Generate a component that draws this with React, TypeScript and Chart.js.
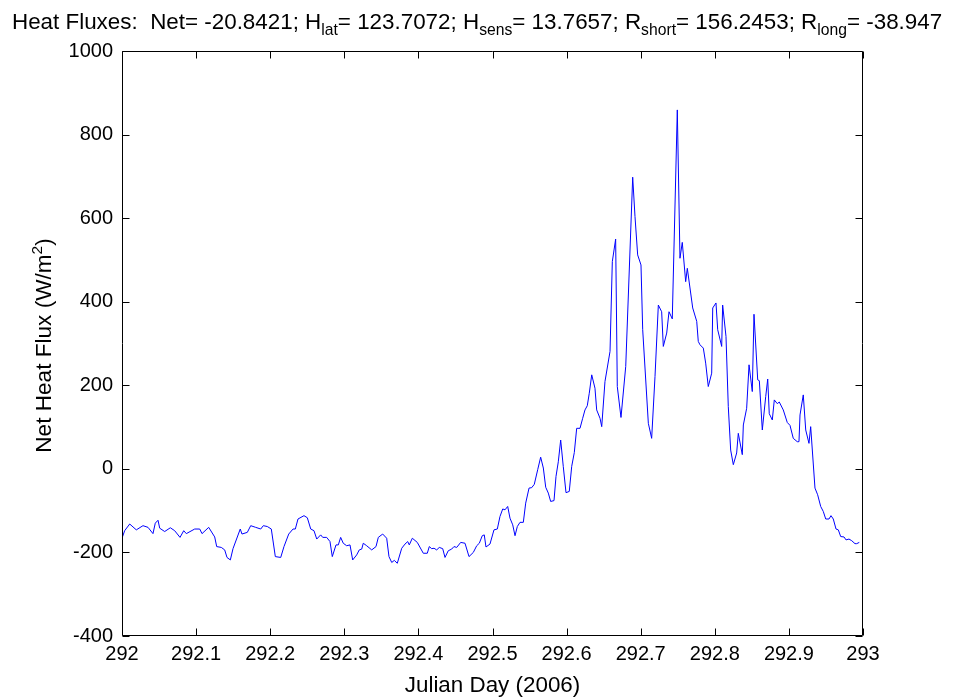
import { useEffect, useRef } from "react";
import { Chart, registerables } from "chart.js";

Chart.register(...registerables);

// Julian day (2006) of each reading
const julianDay = [
  292.0, 292.0036, 292.0104, 292.0193, 292.0283, 292.0351, 292.0418, 292.0449, 292.0486, 292.0509,
  292.0576, 292.0652, 292.0711, 292.0783, 292.0833, 292.0868, 292.0981, 292.1049, 292.108, 292.117,
  292.1251, 292.1278, 292.134, 292.1386, 292.1417, 292.1462, 292.1498, 292.1596, 292.1619, 292.1691,
  292.1737, 292.1804, 292.1872, 292.1907, 292.1961, 292.2015, 292.2069, 292.2142, 292.2186, 292.225,
  292.2308, 292.2339, 292.2375, 292.2456, 292.2501, 292.2547, 292.2591, 292.2628, 292.2681, 292.2709,
  292.2762, 292.2807, 292.2838, 292.2888, 292.2919, 292.2951, 292.2986, 292.3032, 292.3077, 292.3113,
  292.3167, 292.3202, 292.3235, 292.3256, 292.3302, 292.337, 292.3428, 292.3459, 292.3518, 292.3572,
  292.3603, 292.364, 292.3675, 292.3715, 292.3775, 292.3819, 292.3856, 292.3877, 292.3918, 292.3985,
  292.4066, 292.412, 292.4147, 292.4179, 292.4211, 292.4247, 292.4282, 292.4328, 292.4359, 292.4403,
  292.4449, 292.448, 292.4517, 292.4571, 292.4629, 292.4683, 292.4741, 292.4787, 292.4822, 292.4862,
  292.4889, 292.4912, 292.4966, 292.502, 292.5065, 292.5101, 292.5138, 292.5169, 292.5205, 292.5236,
  292.5273, 292.5304, 292.5335, 292.5371, 292.5416, 292.5448, 292.5493, 292.5529, 292.5564, 292.561,
  292.565, 292.5686, 292.5718, 292.5753, 292.5785, 292.583, 292.5857, 292.5888, 292.592, 292.5955,
  292.5992, 292.6036, 292.6069, 292.6104, 292.6136, 292.6181, 292.6217, 292.6248, 292.6279, 292.6306,
  292.6339, 292.6383, 292.6406, 292.6451, 292.6474, 292.6518, 292.6586, 292.6617, 292.6662, 292.6684,
  292.6734, 292.6798, 292.6892, 292.6923, 292.6959, 292.7004, 292.7027, 292.7103, 292.7148, 292.7193,
  292.7238, 292.7283, 292.7305, 292.7351, 292.7382, 292.7426, 292.7494, 292.753, 292.7561, 292.7607,
  292.7629, 292.7702, 292.7756, 292.7777, 292.78, 292.7845, 292.7877, 292.7912, 292.7958, 292.7972,
  292.8016, 292.8039, 292.8093, 292.8106, 292.8151, 292.8182, 292.8214, 292.825, 292.8295, 292.8317,
  292.8371, 292.8385, 292.843, 292.8462, 292.8506, 292.8529, 292.8579, 292.8601, 292.8641, 292.8687,
  292.8714, 292.8735, 292.8776, 292.8803, 292.8843, 292.887, 292.8924, 292.8978, 292.9015, 292.9059,
  292.9113, 292.9136, 292.915, 292.9194, 292.9227, 292.9271, 292.9294, 292.9352, 292.9388, 292.9429,
  292.9464, 292.9497, 292.9541, 292.9568, 292.9599, 292.9636, 292.9667, 292.9699, 292.9744, 292.9771,
  292.9811, 292.9848, 292.9892, 292.9915, 292.995,
];

// Net heat flux (W/m^2)
const netFlux = [
  -166, -148, -132, -146, -136, -140, -155, -130, -123, -142,
  -150, -141, -148, -164, -148, -155, -144, -144, -155, -140,
  -163, -186, -188, -194, -212, -218, -191, -144, -156, -152,
  -136, -140, -144, -136, -138, -144, -210, -212, -186, -156,
  -144, -144, -120, -112, -117, -144, -148, -168, -158, -164,
  -164, -174, -210, -182, -182, -164, -178, -184, -182, -218,
  -206, -194, -192, -178, -184, -194, -186, -164, -156, -166,
  -210, -224, -219, -226, -190, -180, -174, -182, -166, -176,
  -202, -202, -186, -191, -190, -194, -188, -191, -212, -196,
  -192, -186, -188, -176, -178, -210, -200, -184, -178, -160,
  -158, -187, -180, -146, -144, -114, -96, -98, -90, -118,
  -134, -160, -138, -128, -128, -82, -46, -45, -37, -2,
  28, 2, -44, -58, -78, -76, -18, 17, 69, 6,
  -57, -54, 6, 39, 97, 97, 121, 141, 151, 181,
  225, 193, 141, 121, 101, 209, 281, 496, 550, 197,
  123, 245, 698, 604, 512, 488, 333, 109, 73, 221,
  392, 376, 293, 325, 376, 359, 859, 504, 542, 448,
  480, 385, 353, 305, 297, 289, 253, 197, 229, 385,
  397, 333, 293, 392, 317, 149, 45, 10, 38, 85,
  34, 105, 145, 249, 185, 370, 213, 211, 93, 173,
  215, 132, 117, 165, 156, 160, 141, 111, 104, 73,
  65, 65, 129, 177, 93, 61, 101, -46, -62, -90,
  -102, -120, -120, -112, -120, -144, -146, -162, -163, -170,
  -168, -172, -179, -179, -176,
];

const xTickValues = [292, 292.1, 292.2, 292.3, 292.4, 292.5, 292.6, 292.7, 292.8, 292.9, 293];
const yTickValues = [-400, -200, 0, 200, 400, 600, 800, 1000];

// Title pieces: [text, isSubscript]
const titleParts: [string, boolean][] = [
  ["Heat Fluxes:  Net= -20.8421; H", false],
  ["lat", true],
  ["= 123.7072; H", false],
  ["sens", true],
  ["= 13.7657; R", false],
  ["short", true],
  ["= 156.2453; R", false],
  ["long", true],
  ["= -38.947", false],
];
const xAxisTitle = "Julian Day (2006)";
const yAxisTitleParts: [string, boolean][] = [
  ["Net Heat Flux (W/m", false],
  ["2", true],
  [")", false],
];

const FONT = '"Liberation Sans", Arial, sans-serif';

const decorPlugin = {
  id: "matlabDecor",
  afterDatasetsDraw(chart: any) {
    const { ctx, chartArea: a, scales } = chart;
    const L = Math.round(a.left) + 0.5;
    const R = Math.round(a.right) - 0.5;
    const T = Math.round(a.top) + 0.5;
    const B = Math.round(a.bottom) - 0.5;
    const tl = 7;
    ctx.save();
    ctx.strokeStyle = "#000";
    ctx.lineWidth = 1;
    ctx.beginPath();
    ctx.rect(L, T, R - L, B - T);
    for (const v of xTickValues) {
      const x = Math.round(scales.x.getPixelForValue(v)) + 0.5;
      ctx.moveTo(x, B);
      ctx.lineTo(x, B - tl);
      ctx.moveTo(x, T);
      ctx.lineTo(x, T + tl);
    }
    for (const v of yTickValues) {
      const y = Math.round(scales.y.getPixelForValue(v)) + 0.5;
      ctx.moveTo(L, y);
      ctx.lineTo(L + tl, y);
      ctx.moveTo(R, y);
      ctx.lineTo(R - tl, y);
    }
    ctx.stroke();
    ctx.restore();
  },
  afterDraw(chart: any) {
    const { ctx, chartArea: a } = chart;
    ctx.save();
    ctx.fillStyle = "#000";
    ctx.textBaseline = "alphabetic";
    // title
    const big = `22.4px ${FONT}`;
    const small = `15.7px ${FONT}`;
    let x = 12;
    const base = 29;
    ctx.textAlign = "left";
    for (const [t, sub] of titleParts) {
      ctx.font = sub ? small : big;
      ctx.fillText(t, x, sub ? base + 6 : base);
      x += ctx.measureText(t).width;
    }
    // x axis title
    ctx.font = `22.4px ${FONT}`;
    ctx.textAlign = "center";
    ctx.fillText(xAxisTitle, (a.left + a.right) / 2, 692);
    // y axis title
    const yBig = `22.6px ${FONT}`;
    const ySmall = `15.5px ${FONT}`;
    let w = 0;
    for (const [t, sup] of yAxisTitleParts) {
      ctx.font = sup ? ySmall : yBig;
      w += ctx.measureText(t).width;
    }
    ctx.translate(51, (a.top + a.bottom) / 2 + 2);
    ctx.rotate(-Math.PI / 2);
    ctx.textAlign = "left";
    let px = -w / 2;
    for (const [t, sup] of yAxisTitleParts) {
      ctx.font = sup ? ySmall : yBig;
      ctx.fillText(t, px, sup ? -9 : 0);
      px += ctx.measureText(t).width;
    }
    ctx.restore();
  },
};

export default function App() {
  const ref = useRef<HTMLCanvasElement | null>(null);
  useEffect(() => {
    if (!ref.current) return;
    const points = julianDay.map((d, i) => ({ x: d, y: netFlux[i] }));
    const chart = new Chart(ref.current, {
      type: "line",
      data: {
        datasets: [
          {
            data: points,
            borderColor: "#0000ff",
            borderWidth: 1,
            pointRadius: 0,
            fill: false,
            tension: 0,
          },
        ],
      },
      options: {
        animation: false,
        responsive: false,
        events: [],
        layout: { padding: { left: 0, right: 101, top: 51, bottom: 0 } },
        plugins: { legend: { display: false }, tooltip: { enabled: false }, title: { display: false } },
        scales: {
          x: {
            type: "linear",
            min: 292,
            max: 293,
            grid: { display: false, drawTicks: false },
            border: { display: false },
            afterBuildTicks: (s: any) => {
              s.ticks = xTickValues.map((v) => ({ value: v }));
            },
            afterFit: (s: any) => {
              s.height = 64;
              s.paddingLeft = 0;
              s.paddingRight = 0;
              s.paddingTop = 0;
              s.paddingBottom = 0;
            },
            ticks: {
              color: "#000",
              font: { family: FONT, size: 20 },
              padding: 6,
              maxRotation: 0,
              autoSkip: false,
              callback: (v: any) => String(Number(Number(v).toFixed(1))),
            },
          },
          y: {
            type: "linear",
            min: -400,
            max: 1000,
            grid: { display: false, drawTicks: false },
            border: { display: false },
            afterBuildTicks: (s: any) => {
              s.ticks = yTickValues.map((v) => ({ value: v }));
            },
            afterFit: (s: any) => {
              s.width = 122;
              s.paddingLeft = 0;
              s.paddingRight = 0;
              s.paddingTop = 0;
              s.paddingBottom = 0;
            },
            ticks: {
              color: "#000",
              font: { family: FONT, size: 20 },
              padding: 9,
              autoSkip: false,
              callback: (v: any) => String(v),
            },
          },
        },
      },
      plugins: [decorPlugin],
    });
    return () => chart.destroy();
  }, []);
  return (
    <div style={{ position: "fixed", left: 0, top: 0, width: 964, height: 700, background: "#fff" }}>
      <canvas ref={ref} width={964} height={700} style={{ width: 964, height: 700 }} />
    </div>
  );
}
